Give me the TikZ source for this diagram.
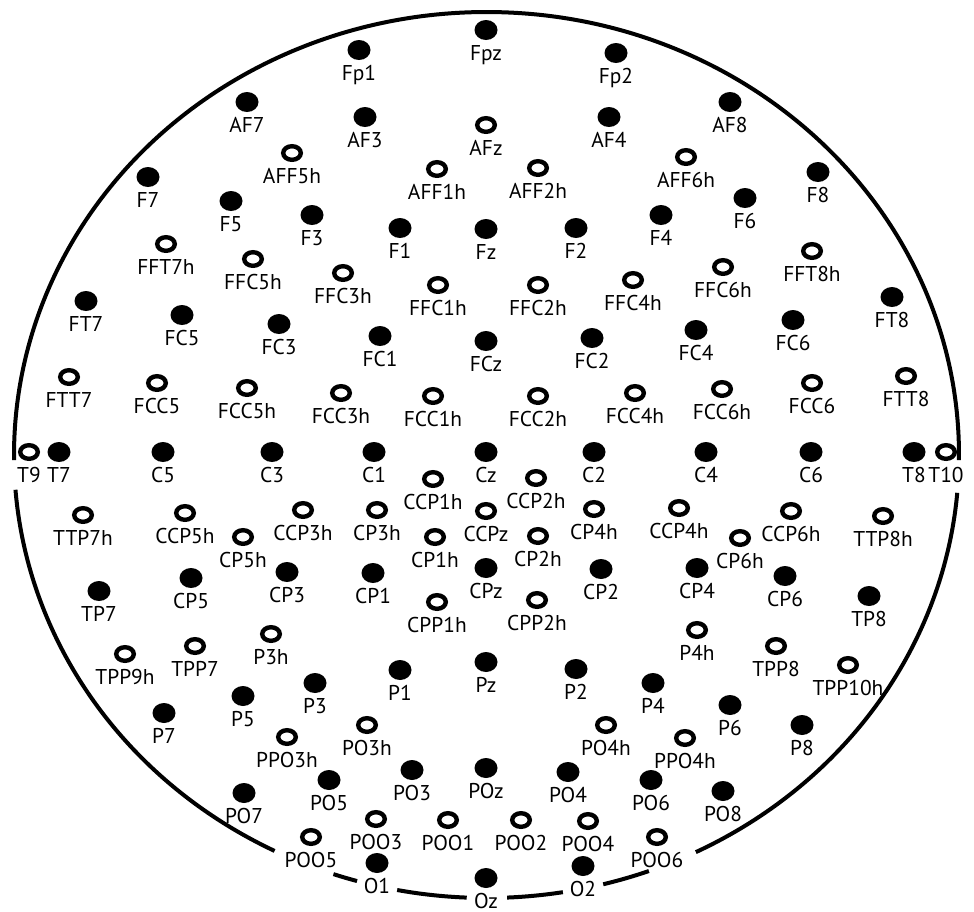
\documentclass[tikz,border=0pt]{standalone}
\usepackage{fontspec}
\setmainfont{PT Sans}
\usetikzlibrary{shapes.geometric}

\begin{document}
\begin{tikzpicture}[x=0.5pt, y=0.5pt,
    full/.style={ellipse, fill=black, inner sep=0pt, minimum width=11.5pt, minimum height=10pt},
    hollow/.style={ellipse, draw=black, line width=2.2pt, inner sep=0pt, minimum width=8.8pt, minimum height=6.8pt},
    tag/.style={anchor=base, inner sep=0pt, font=\fontsize{10.7}{12}\selectfont},
    rim/.style={line width=2pt}]
  \useasboundingbox (0,0) rectangle (974,-911);
  \coordinate (ctr) at (486.5,-455);
  % head outline, broken where the labels sit
  \foreach \a/\b in {-0.65/180.65, 184.5/243.35, 251.1/254.1, 259.1/267.6, 272.5/279.3, 284.3/290.1, 296.3/355.1}
    \draw[rim] (ctr) ++(\a:472.5 and 443) arc[start angle=\a, end angle=\b, x radius=472.5, y radius=443];
  % 10-10 positions
  \foreach \n/\x/\y in {Fp1/359/50, Fpz/486/30, Fp2/616/53,
      AF7/247/102, AF3/365/117, AF4/609/117, AF8/730/102,
      F7/148/177, F5/231/201, F3/312/215, F1/400/228, Fz/486/229, F2/576/228, F4/661/215, F6/745/198, F8/818/172,
      FT7/86/301, FC5/182/315, FC3/279/324, FC1/380/336, FCz/486/341, FC2/592/338, FC4/696/330, FC6/793/320, FT8/892/297,
      T7/59/452, C5/163/452, C3/272/452, C1/374/452, Cz/486/452, C2/594/452, C4/706/452, C6/811/452, T8/914/452,
      TP7/99/591, CP5/191/578, CP3/287/572, CP1/373/573, CPz/486/568, CP2/601/569, CP4/697/568, CP6/785/576, TP8/869/596,
      P7/164/713, P5/243/696, P3/315/683, P1/400/670, Pz/486/662, P2/576/669, P4/653/683, P6/730/705, P8/802/725,
      PO7/244/793, PO5/329/780, PO3/412/770, POz/486/768, PO4/568/772, PO6/651/780, PO8/723/791,
      O1/377/863, Oz/486/878, O2/583/866}{
    \node[full] (\n) at (\x,-\y) {};
    \node[tag] (\n-t) at (\x,-\y-30) {\n};
  }
  % extra 10-5 positions
  \foreach \n/\x/\y in {AFz/486/125,
      AFF5h/292/153, AFF1h/437/169, AFF2h/538/168, AFF6h/686/157,
      FFT7h/166/244, FFC5h/253/259, FFC3h/343/273, FFC1h/438/285, FFC2h/538/285, FFC4h/633/280, FFC6h/723/267, FFT8h/812/251,
      FTT7/69/377, FCC5/157/383, FCC5h/247/388, FCC3h/341/393, FCC1h/433/396, FCC2h/538/396, FCC4h/635/393, FCC6h/722/389, FCC6/812/383, FTT8/906/376,
      T9/29/452, T10/946/452,
      CCP1h/433/479, CCP2h/536/478,
      TTP7h/83/515, CCP5h/185/513, CCP3h/303/510, CP3h/377/510, CCPz/486/511, CP4h/594/509, CCP4h/679/508, CCP6h/791/511, TTP8h/883/516,
      CP5h/243/537, CP1h/435/537, CP2h/538/536, CP6h/740/538,
      CPP1h/437/602, CPP2h/537/600,
      P3h/271/634, P4h/697/630,
      TPP9h/125/654, TPP7/195/646, TPP8/776/646, TPP10h/848/665,
      PPO3h/287/737, PO3h/367/725, PO4h/606/725, PPO4h/685/738,
      POO5/311/837, POO3/376/819, POO1/448/820, POO2/521/820, POO4/588/821, POO6/657/837}{
    \node[hollow] (\n) at (\x,-\y) {};
    \node[tag] (\n-t) at (\x,-\y-30) {\n};
  }
\end{tikzpicture}
\end{document}
